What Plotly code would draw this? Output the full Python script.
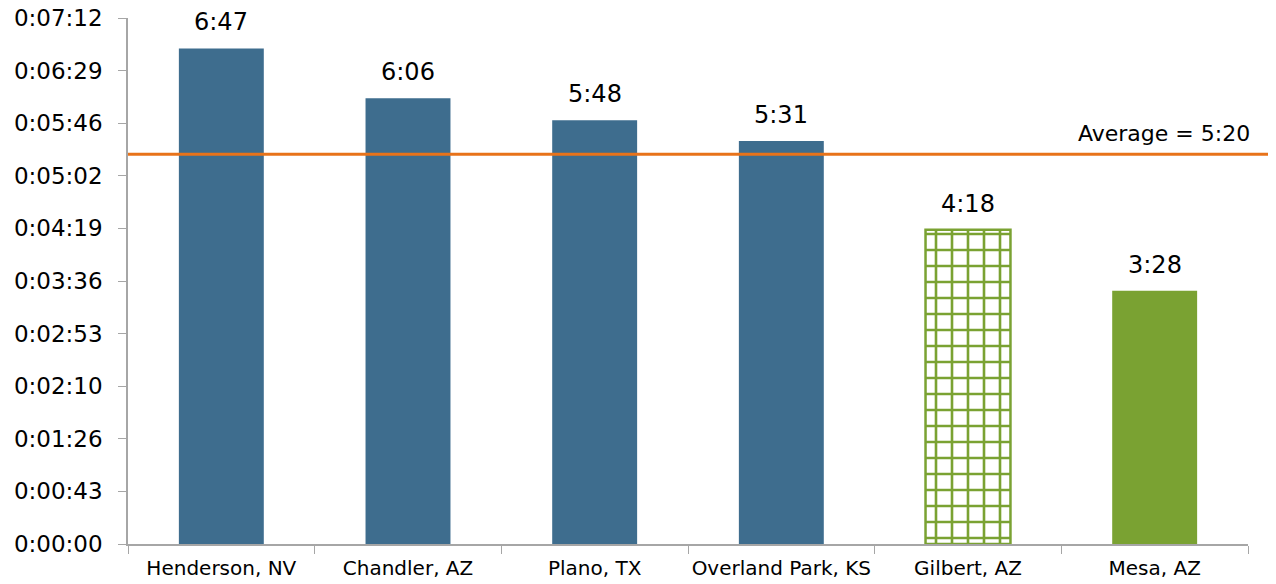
import plotly.graph_objects as go

# Data
cities = ["Henderson, NV", "Chandler, AZ", "Plano, TX", "Overland Park, KS", "Gilbert, AZ", "Mesa, AZ"]
times = ["6:47", "6:06", "5:48", "5:31", "4:18", "3:28"]
average_time = "5:20"
tick_labels = ["0:00:00", "0:00:43", "0:01:26", "0:02:10", "0:02:53", "0:03:36",
               "0:04:19", "0:05:02", "0:05:46", "0:06:29", "0:07:12"]
tick_seconds = [0, 43.2, 86.4, 129.6, 172.8, 216.0, 259.2, 302.4, 345.6, 388.8, 432.0]


def to_seconds(t):
    m, s = t.split(":")
    return int(m) * 60 + int(s)


seconds = [to_seconds(t) for t in times]
avg_seconds = to_seconds(average_time)

BLUE = "#3E6D8E"
GREEN = "#7AA232"
ORANGE = "#E8731A"
AXIS = "#A6A6A6"
FONT = "DejaVu Sans, Liberation Sans, Arial, sans-serif"

colors = [BLUE, BLUE, BLUE, BLUE, GREEN, GREEN]
patterns = ["", "", "", "", "+", ""]
line_widths = [0, 0, 0, 0, 2.5, 0]

fig = go.Figure()
fig.add_trace(go.Bar(
    x=cities,
    y=seconds,
    marker=dict(
        color=colors,
        line=dict(color=colors, width=line_widths),
        pattern=dict(shape=patterns, bgcolor="white",
                     size=16, solidity=0.3, fillmode="replace"),
    ),
    width=0.455,
    hoverinfo="skip",
))

# value labels above the bars
for city, sec, label in zip(cities, seconds, times):
    fig.add_annotation(x=city, y=sec, text=label, showarrow=False,
                       yanchor="bottom", yshift=10,
                       font=dict(size=24, color="black"))

# Average line (extends past the plot area like the original)
fig.add_shape(type="line", xref="paper", yref="y", x0=0, x1=1.03,
              y0=avg_seconds, y1=avg_seconds,
              line=dict(color=ORANGE, width=3))
fig.add_annotation(xref="paper", yref="y", x=1.004, y=avg_seconds,
                   text=f"Average = {average_time}", showarrow=False,
                   xanchor="right", yanchor="bottom", yshift=6,
                   font=dict(size=22, color="black"))

# page body adds an 8px offset, so margins are shifted to compensate
fig.update_layout(
    width=1276, height=584,
    margin=dict(l=120, r=36, t=10, b=48),
    plot_bgcolor="white", paper_bgcolor="white",
    font=dict(family=FONT, color="black"),
    showlegend=False,
    xaxis=dict(
        showline=True, linecolor=AXIS, linewidth=1.5,
        ticks="outside", tickson="boundaries", ticklen=8, tickcolor=AXIS,
        tickfont=dict(size=20), tickangle=0, ticklabelstandoff=5,
        showgrid=False, automargin=False,
    ),
    yaxis=dict(
        range=[0, 432], tickvals=tick_seconds, ticktext=tick_labels,
        showline=True, linecolor=AXIS, linewidth=1.5,
        ticks="outside", ticklen=8, tickcolor=AXIS, ticklabeloverflow="allow",
        ticklabelstandoff=11,
        tickfont=dict(size=23), showgrid=False, zeroline=False, automargin=False,
    ),
)

fig.write_html("out.html")
